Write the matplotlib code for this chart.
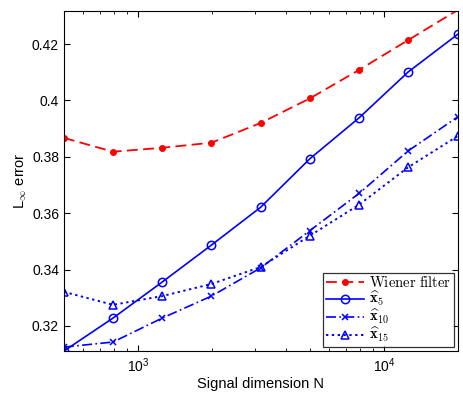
import numpy as np
import matplotlib
matplotlib.use('Agg')
from matplotlib import pyplot as plt

plt.rcParams['font.family'] = ['Liberation Sans', 'DejaVu Sans']
plt.rcParams['mathtext.fontset'] = 'cm'

N = [500, 792, 1256, 1991, 3155, 5000, 7924, 12559, 20000]
wiener = [0.3867, 0.3818, 0.3832, 0.3850, 0.3920, 0.4007, 0.4108, 0.4214, 0.4321]
x5 = [0.3111, 0.3228, 0.3356, 0.3487, 0.3621, 0.3793, 0.3938, 0.4101, 0.4235]
x10 = [0.3125, 0.3143, 0.3228, 0.3306, 0.3406, 0.3538, 0.3670, 0.3821, 0.3942]
x15 = [0.3321, 0.3275, 0.3306, 0.3349, 0.3409, 0.3520, 0.3630, 0.3763, 0.3874]

labels = [r'$\mathrm{Wiener\ filter}$', r'$\widehat{\mathbf{x}}_{\mathbf{5}}$',
          r'$\widehat{\mathbf{x}}_{\mathbf{10}}$', r'$\widehat{\mathbf{x}}_{\mathbf{15}}$']

fig = plt.figure(figsize=(4.63, 3.94), dpi=100)
ax = fig.add_axes([0.138, 0.109, 0.851, 0.863])

# last Wiener point sits on the top edge, its marker is cut off in the original
ax.plot(N, wiener, color='#ff0000', ls=(0, (6, 3)), lw=1.3, marker='.', ms=8,
        markevery=list(range(len(N) - 1)), label=labels[0])
ax.plot(N, x5, color='#0000ff', ls='-', lw=1.2, marker='o', ms=6, mfc='none', mew=1.1, label=labels[1])
ax.plot(N, x10, color='#0000ff', ls=(0, (6, 2, 1, 2)), lw=1.2, marker='x', ms=4, mew=1.1, label=labels[2])
ax.plot(N, x15, color='#0000ff', ls=(0, (1.2, 1.8)), lw=1.4, marker='^', ms=6, mfc='none', mew=1.1, label=labels[3])

ax.set_xscale('log')
ax.set_xlim(500, 20000)
ax.set_ylim(0.3111, 0.4317)
ax.set_yticks([0.32, 0.34, 0.36, 0.38, 0.4, 0.42])
ax.set_yticklabels(['0.32', '0.34', '0.36', '0.38', '0.4', '0.42'])
ax.tick_params(which='both', direction='in', top=True, right=True, labelsize=10)
ax.tick_params(which='major', length=4)
ax.tick_params(which='minor', length=2)

ax.set_xlabel('Signal dimension N', fontsize=10.5, labelpad=2)
ax.set_ylabel(r'L$_\infty$ error', fontsize=10.5, labelpad=2)

leg = ax.legend(loc='lower right', fontsize=10.5, handlelength=2.6, borderaxespad=0.3,
                labelspacing=0.0, handletextpad=0.4, borderpad=0.15, fancybox=False)
leg.get_frame().set_edgecolor('black')
leg.get_frame().set_linewidth(0.9)

plt.savefig('out.png', dpi=100)
